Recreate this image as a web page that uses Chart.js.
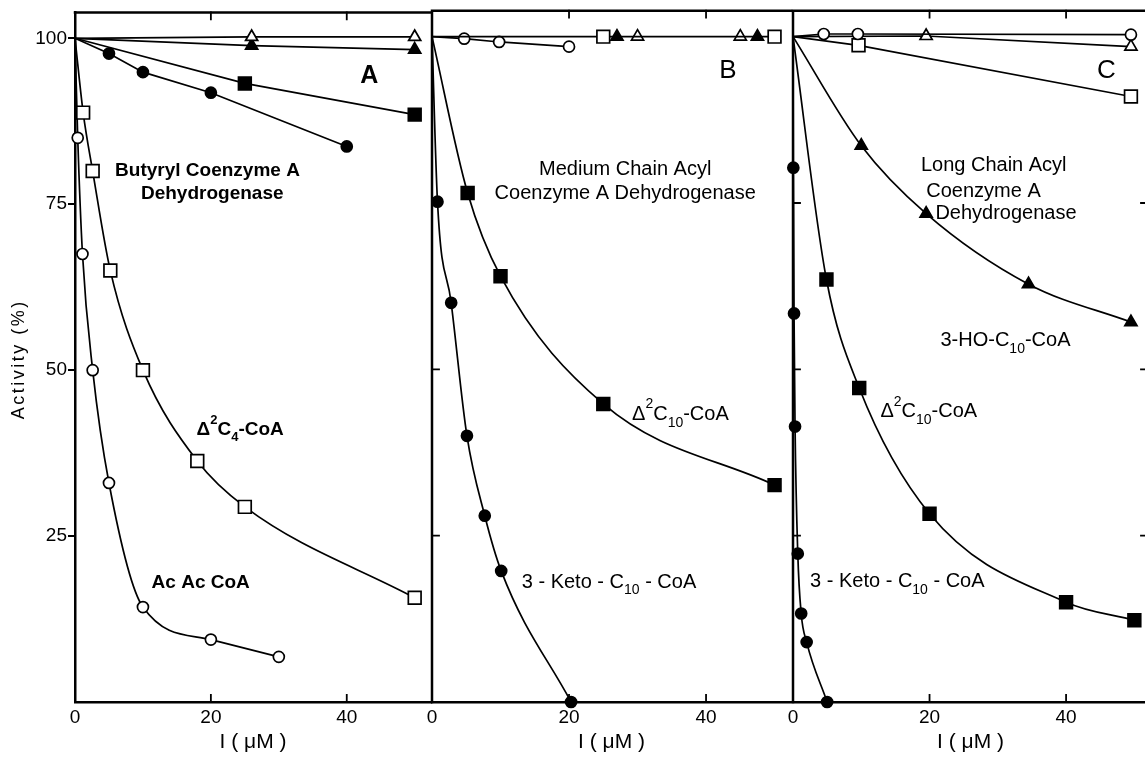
<!DOCTYPE html>
<html lang="en">
<head>
  <meta charset="UTF-8" />
  <title>Inhibition of acyl-CoA dehydrogenases</title>
  <script src="https://cdn.jsdelivr.net/npm/chart.js"></script>
  <style>
    html, body { margin: 0; padding: 0; background: #fff; overflow: hidden; }
    body { width: 1145px; height: 763px; position: relative; }
    canvas { position: absolute; top: 0; }
    #chartA { left: 0; }
    #chartB { left: 400px; }
    #chartC { left: 760px; }
  </style>
</head>
<body>
  <canvas id="chartA" width="460" height="763"></canvas>
  <canvas id="chartB" width="420" height="763"></canvas>
  <canvas id="chartC" width="400" height="763"></canvas>

  <script>
    // axis ticks (I in uM, activity in %)
    const xTicks = [0, 20, 40];
    const yTicks = [25, 50, 75, 100];

    // A - butyryl CoA dehydrogenase
    const aOpenTriX = [0, 26, 50];
    const aOpenTriY = [100, 100.2, 100.2];
    const aFillTriX = [0, 26, 50];
    const aFillTriY = [100, 98.9, 98.3];
    const aFillSqX = [0, 25, 50];
    const aFillSqY = [100, 93.2, 88.5];
    const aFillCircX = [0, 5, 10, 20, 40];
    const aFillCircY = [100, 97.7, 94.9, 91.8, 83.7];
    const aOpenSqX = [0, 1.2, 2.6, 5.2, 10, 18, 25, 50];
    const aOpenSqY = [100, 88.8, 80, 65, 50, 36.3, 29.4, 15.7];
    const aOpenCircX = [0, 0.4, 1.1, 2.6, 5, 10, 20, 30];
    const aOpenCircY = [100, 85, 67.5, 50, 33, 14.3, 9.4, 6.8];

    // B - medium chain acyl CoA dehydrogenase
    const bOpenCircX = [0, 4.7, 9.8, 20];
    const bOpenCircY = [100, 99.7, 99.2, 98.5];
    const bOpenSqX = [0, 25, 50];
    const bOpenSqY = [100, 100, 100];
    const bFillTriX = [27, 47.5];
    const bFillTriY = [100, 100];
    const bOpenTriX = [30, 45];
    const bOpenTriY = [100, 100];
    const bFillSqX = [0, 5.2, 10, 25, 50];
    const bFillSqY = [100, 76.5, 64, 44.8, 32.6];
    const bFillCircX = [0, 0.8, 2.8, 5.1, 7.7, 10.1, 20.3];
    const bFillCircY = [100, 75.2, 60, 40, 28, 19.7, 0];

    // C - long chain acyl CoA dehydrogenase
    const cOpenCircX = [0, 4.5, 9.5, 49.5];
    const cOpenCircY = [100, 100.4, 100.4, 100.3];
    const cOpenTriX = [0, 19.5, 49.5];
    const cOpenTriY = [100, 100.1, 98.5];
    const cOpenSqX = [0, 9.6, 49.5];
    const cOpenSqY = [100, 98.7, 91];
    const cFillTriX = [0, 10, 19.5, 34.5, 49.5];
    const cFillTriY = [100, 83.6, 73.4, 62.8, 57.1];
    const cFillSqX = [0, 4.9, 9.7, 20, 40, 50];
    const cFillSqY = [100, 63.5, 47.2, 28.3, 15, 12.3];
    const cFillCircX = [0, 0.05, 0.15, 0.3, 0.7, 1.2, 2, 5];
    const cFillCircY = [100, 80.3, 58.4, 41.4, 22.3, 13.3, 9, 0];

    const FONT = "'Liberation Sans', Arial, sans-serif";
    Chart.defaults.font.family = FONT;
    Chart.defaults.color = '#000';

    const markerSize = { circle: 5.5, rect: 9, triangle: 7 };

    function series(xs, ys, style, filled, curve, line = true) {
      return {
        data: xs.map((x, i) => ({ x, y: ys[i] })),
        showLine: line,
        borderColor: '#000',
        borderWidth: 1.7,
        tension: 0,
        cubicInterpolationMode: curve ? 'monotone' : 'default',
        pointStyle: style,
        pointRadius: c => (c.raw && c.raw.x === 0 && c.raw.y === 100) ? 0 : markerSize[style],
        pointBackgroundColor: filled ? '#000' : '#fff',
        pointBorderColor: '#000',
        pointBorderWidth: 1.7,
        clip: false
      };
    }

    // text with sub/superscripts, placed in data coordinates
    function drawRich(ctx, parts, px, py, size, weight, align) {
      const fontOf = s => `${weight} ${s}px ${FONT}`;
      let total = 0;
      const items = parts.map(p => {
        const t = Array.isArray(p) ? p[0] : p;
        const m = Array.isArray(p) ? p[1] : '';
        const s = m ? Math.round(size * 0.68) : size;
        ctx.font = fontOf(s);
        const w = ctx.measureText(t).width;
        total += w;
        return { t, m, s, w };
      });
      let cx = align === 'center' ? px - total / 2 : px;
      ctx.textAlign = 'left';
      ctx.textBaseline = 'middle';
      items.forEach(it => {
        ctx.font = fontOf(it.s);
        const dy = it.m === 'sup' ? -size * 0.5 : it.m === 'sub' ? size * 0.42 : 0;
        ctx.fillText(it.t, cx, py + dy);
        cx += it.w;
      });
    }

    const frameAndText = {
      id: 'frameAndText',
      afterDraw(chart, args, opts) {
        const { ctx, chartArea: { left, right, top, bottom }, scales: { x, y } } = chart;
        ctx.save();
        ctx.strokeStyle = '#000';
        ctx.lineCap = 'square';
        ctx.lineWidth = 2.5;
        ctx.beginPath();
        ctx.moveTo(left, top);
        ctx.lineTo(right, top);
        if (opts.leftAxis) {
          ctx.moveTo(left, top);
          ctx.lineTo(left, bottom);
        }
        if (opts.rightAxis) {
          ctx.moveTo(right, top);
          ctx.lineTo(right, bottom);
        }
        ctx.stroke();

        ctx.lineWidth = 1.8;
        ctx.beginPath();
        xTicks.slice(1).forEach(v => {
          const px = x.getPixelForValue(v);
          ctx.moveTo(px, top);
          ctx.lineTo(px, top + 7);
          ctx.moveTo(px, bottom);
          ctx.lineTo(px, bottom - 7);
        });
        yTicks.slice(0, 3).forEach(v => {
          const py = y.getPixelForValue(v);
          if (opts.leftAxis) {
            ctx.moveTo(left, py);
            ctx.lineTo(left + 7, py);
          }
          if (opts.rightAxis) {
            ctx.moveTo(right, py);
            ctx.lineTo(right - 7, py);
          }
        });
        ctx.stroke();

        ctx.fillStyle = '#000';
        if (opts.yTitle) {
          ctx.save();
          ctx.translate(19, (top + bottom) / 2 + 2);
          ctx.rotate(-Math.PI / 2);
          ctx.font = `18px ${FONT}`;
          ctx.letterSpacing = '2.5px';
          ctx.textAlign = 'center';
          ctx.textBaseline = 'middle';
          ctx.fillText(opts.yTitle, 0, 0);
          ctx.restore();
        }
        (opts.labels || []).forEach(l => {
          drawRich(ctx, l.parts, x.getPixelForValue(l.x), y.getPixelForValue(l.y),
            l.size, l.weight || 'normal', l.align || 'left');
        });
        ctx.restore();
      }
    };

    function makeChart(id, datasets, xMax, pad, opts, showY) {
      return new Chart(document.getElementById(id), {
        type: 'scatter',
        data: { datasets },
        options: {
          responsive: false,
          animation: false,
          devicePixelRatio: 1,
          layout: { padding: pad },
          plugins: { legend: { display: false }, tooltip: { enabled: false }, frameAndText: opts },
          scales: {
            x: {
              type: 'linear',
              min: 0,
              max: xMax,
              afterFit: s => { s.height = 61; },
              ticks: { stepSize: 20, includeBounds: false, padding: 4, maxRotation: 0, font: { size: 19 } },
              grid: { display: false, drawTicks: false },
              border: { display: true, color: '#000', width: 2.5 },
              title: { display: true, text: 'I ( \u03bcM )', font: { size: 21 }, padding: { top: 0, bottom: 8 } }
            },
            y: {
              display: showY,
              min: 0,
              max: 103.9,
              afterFit: s => { if (showY) s.width = 75; },
              ticks: { stepSize: 25, includeBounds: false, padding: 1, font: { size: 19 },
                callback: v => v === 0 ? '' : v },
              grid: { drawOnChartArea: false, drawTicks: true, tickLength: 7, lineWidth: 2,
                color: c => c.tick && c.tick.value === 0 ? 'rgba(0,0,0,0)' : '#000' },
              border: { display: true, color: '#000', width: 2.5 }
            }
          }
        },
        plugins: [frameAndText]
      });
    }

    makeChart('chartA', [
      series(aOpenTriX, aOpenTriY, 'triangle', false, false),
      series(aFillTriX, aFillTriY, 'triangle', true, false),
      series(aFillSqX, aFillSqY, 'rect', true, false),
      series(aFillCircX, aFillCircY, 'circle', true, false),
      series(aOpenSqX, aOpenSqY, 'rect', false, true),
      series(aOpenCircX, aOpenCircY, 'circle', false, true)
    ], 52.4, { top: 7, right: 29, left: 0, bottom: 0 }, {
      yTitle: 'Activity (%)',
      labels: [
        { x: 43.3, y: 94.3, parts: ['A'], size: 25, weight: 'bold', align: 'center' },
        { x: 19.5, y: 80, parts: ['Butyryl Coenzyme A'], size: 19, weight: 'bold', align: 'center' },
        { x: 20.2, y: 76.5, parts: ['Dehydrogenase'], size: 19, weight: 'bold', align: 'center' },
        { x: 17.9, y: 41, parts: ['\u0394', ['2', 'sup'], 'C', ['4', 'sub'], '-CoA'], size: 19, weight: 'bold' },
        { x: 18.5, y: 18, parts: ['Ac Ac CoA'], size: 19, weight: 'bold', align: 'center' }
      ]
    }, true);

    makeChart('chartB', [
      series(bOpenSqX, bOpenSqY, 'rect', false, false),
      series(bFillTriX, bFillTriY, 'triangle', true, false, false),
      series(bOpenTriX, bOpenTriY, 'triangle', false, false, false),
      series(bOpenCircX, bOpenCircY, 'circle', false, false),
      series(bFillSqX, bFillSqY, 'rect', true, true),
      series(bFillCircX, bFillCircY, 'circle', true, true)
    ], 52.4, { top: 7, right: 29, left: 32, bottom: 0 }, {
      leftAxis: true,
      labels: [
        { x: 43.2, y: 94.8, parts: ['B'], size: 26, align: 'center' },
        { x: 28.2, y: 80.1, parts: ['Medium Chain Acyl'], size: 20, align: 'center' },
        { x: 28.2, y: 76.5, parts: ['Coenzyme A Dehydrogenase'], size: 20, align: 'center' },
        { x: 29.2, y: 43.2, parts: ['\u0394', ['2', 'sup'], 'C', ['10', 'sub'], '-CoA'], size: 20 },
        { x: 13.1, y: 18, parts: ['3 - Keto - C', ['10', 'sub'], ' - CoA'], size: 20 }
      ]
    }, false);

    makeChart('chartC', [
      series(cOpenCircX, cOpenCircY, 'circle', false, false),
      series(cOpenTriX, cOpenTriY, 'triangle', false, false),
      series(cOpenSqX, cOpenSqY, 'rect', false, false),
      series(cFillTriX, cFillTriY, 'triangle', true, true),
      series(cFillSqX, cFillSqY, 'rect', true, true),
      series(cFillCircX, cFillCircY, 'circle', true, true)
    ], 52, { top: 7, right: 12, left: 33, bottom: 0 }, {
      leftAxis: true,
      rightAxis: true,
      labels: [
        { x: 45.9, y: 94.9, parts: ['C'], size: 26, align: 'center' },
        { x: 29.4, y: 80.6, parts: ['Long Chain Acyl'], size: 20, align: 'center' },
        { x: 27.9, y: 76.8, parts: ['Coenzyme A'], size: 20, align: 'center' },
        { x: 31.2, y: 73.4, parts: ['Dehydrogenase'], size: 20, align: 'center' },
        { x: 21.6, y: 54.3, parts: ['3-HO-C', ['10', 'sub'], '-CoA'], size: 20 },
        { x: 12.8, y: 43.6, parts: ['\u0394', ['2', 'sup'], 'C', ['10', 'sub'], '-CoA'], size: 20 },
        { x: 2.5, y: 18.1, parts: ['3 - Keto - C', ['10', 'sub'], ' - CoA'], size: 20 }
      ]
    }, false);
  </script>
</body>
</html>
